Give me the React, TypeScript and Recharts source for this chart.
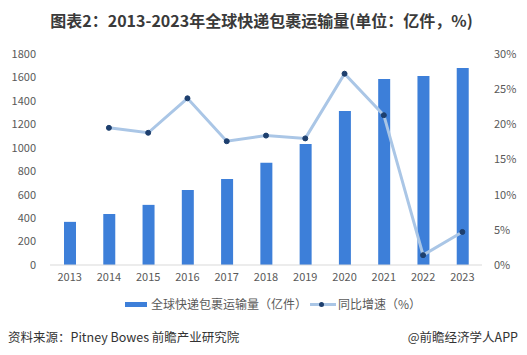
import React from 'react';
import { ComposedChart, Bar, Line, XAxis, YAxis } from 'recharts';

const years = ['2013', '2014', '2015', '2016', '2017', '2018', '2019', '2020', '2021', '2022', '2023'];
const volume = [368, 435, 513, 640, 734, 872, 1032, 1314, 1587, 1612, 1680];
const growth: (number | null)[] = [null, 19.5, 18.8, 23.7, 17.6, 18.4, 18.0, 27.2, 21.3, 1.4, 4.7];
const leftTicks = [0, 200, 400, 600, 800, 1000, 1200, 1400, 1600, 1800];
const rightTicks = [0, 5, 10, 15, 20, 25, 30];

const data = years.map((y, i) => ({ year: y, volume: volume[i], growth: growth[i] }));

const FONT = '"Noto Sans CJK SC", "Noto Sans", sans-serif';
const BAR = '#3d7fd9';
const LINE = '#aac6e6';
const DOT = '#1d3f6e';

const LegendBlock = () => (
  <div style={{ position: 'absolute', left: 0, top: 294, width: 527, height: 20, fontFamily: FONT, fontSize: 12, color: '#595959' }}>
    <div style={{ position: 'absolute', left: 125, top: 8, width: 22, height: 5, background: BAR }} />
    <div style={{ position: 'absolute', left: 151, top: 0, lineHeight: '20px', whiteSpace: 'nowrap' }}>全球快递包裹运输量（亿件）</div>
    <div style={{ position: 'absolute', left: 310, top: 9, width: 26, height: 3, background: LINE }} />
    <div style={{ position: 'absolute', left: 319, top: 8, width: 5, height: 5, borderRadius: 3, background: DOT }} />
    <div style={{ position: 'absolute', left: 338, top: 0, lineHeight: '20px', whiteSpace: 'nowrap' }}>同比增速（%）</div>
  </div>
);

export default function App() {
  return (
    <div style={{ position: 'absolute', left: 0, top: 0, width: 527, height: 355, background: '#fff', fontFamily: FONT }}>
      <div style={{ position: 'absolute', left: 0, top: 8, width: 523, textAlign: 'center', fontSize: 16, fontWeight: 'bold', color: '#3a3a3a', whiteSpace: 'nowrap' }}>
        图表2：2013-2023年全球快递包裹运输量(单位：亿件，%)
      </div>
      <ComposedChart width={527} height={355} data={data} margin={{ top: 54, right: 0, bottom: 60, left: 5 }} style={{ position: 'absolute', left: 0, top: 0 }}>
        <XAxis dataKey="year" axisLine={{ stroke: '#d9d9d9' }} tickLine={false} tickMargin={2} tick={{ fontSize: 11, fill: '#595959' }} interval={0} />
        <YAxis yAxisId="left" width={45} domain={[0, 1800]} ticks={leftTicks} axisLine={false} tickLine={false} tickMargin={8} tick={{ fontSize: 11, fill: '#595959' }} />
        <YAxis yAxisId="right" orientation="right" width={45} domain={[0, 30]} ticks={rightTicks} axisLine={false} tickLine={false} tickMargin={6} tickFormatter={(v: number) => `${v}%`} tick={{ fontSize: 11, fill: '#595959', textAnchor: 'start' }} />
        <Bar yAxisId="left" dataKey="volume" fill={BAR} barSize={12} isAnimationActive={false} />
        <Line yAxisId="right" dataKey="growth" stroke={LINE} strokeWidth={3} dot={{ r: 2.5, fill: DOT, stroke: DOT, strokeWidth: 1 }} isAnimationActive={false} connectNulls={false} />
      </ComposedChart>
      <LegendBlock />
      <div style={{ position: 'absolute', left: 8, top: 327, fontSize: 12.5, color: '#333', whiteSpace: 'nowrap' }}>资料来源：Pitney Bowes 前瞻产业研究院</div>
      <div style={{ position: 'absolute', right: 9, top: 327, fontSize: 12.5, color: '#333', whiteSpace: 'nowrap' }}>@前瞻经济学人APP</div>
    </div>
  );
}
